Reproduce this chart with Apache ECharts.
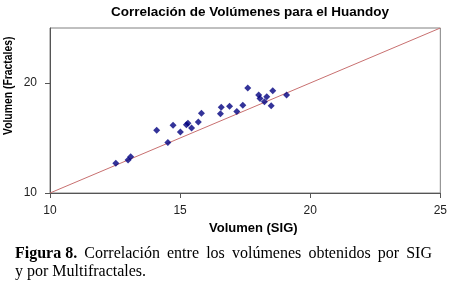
<!DOCTYPE html>
<html>
<head>
<meta charset="utf-8">
<script src="https://cdn.jsdelivr.net/npm/echarts@6/dist/echarts.min.js"></script>
<style>
  html, body { margin: 0; padding: 0; background: #fff; }
  #chart { width: 450px; height: 285px; }
</style>
</head>
<body>
<div id="chart"></div>
<script>
// volumen SIG (x) y volumen por multifractales (y)
var volSIG = [12.53, 13.0, 13.1, 14.1, 14.53, 14.73, 15.01, 15.24, 15.3, 15.44, 15.7,
  15.82, 16.55, 16.58, 16.9, 17.18, 17.41, 17.6, 18.02, 18.07, 18.24, 18.33, 18.5, 18.56, 19.09];
var volFractales = [12.7, 13.0, 13.3, 15.7, 14.6, 16.15, 15.55, 16.2, 16.35, 15.92, 16.45,
  17.25, 17.2, 17.79, 17.88, 17.42, 17.97, 19.55, 18.91, 18.6, 18.3, 18.76, 17.94, 19.3, 18.91];
var lineaIgual = [10, 25];
var xTicks = [10, 15, 20, 25];

var chart = echarts.init(document.getElementById("chart"));

var puntos = volSIG.map(function (v, i) {
  return [v, volFractales[i]];
});

// primera linea del pie de figura, justificada entre x=15 y x=432
var captionFont = "16px 'Liberation Serif'";
var captionBold = "bold 16px 'Liberation Serif'";
var palabras = ["Figura 8.", "Correlación", "entre", "los", "volúmenes", "obtenidos", "por", "SIG"];
var ctx = document.createElement("canvas").getContext("2d");
var anchos = palabras.map(function (w, i) {
  ctx.font = i === 0 ? captionBold : captionFont;
  return ctx.measureText(w).width;
});
var total = anchos.reduce(function (a, b) { return a + b; }, 0);
var hueco = (432 - 15 - total) / (palabras.length - 1);
var captionGraphics = [];
var xPos = 15;
palabras.forEach(function (w, i) {
  captionGraphics.push({
    type: "text",
    x: xPos,
    y: 246,
    style: { text: w, font: i === 0 ? captionBold : captionFont, fill: "#000" },
  });
  xPos += anchos[i] + hueco;
});
captionGraphics.push({
  type: "text",
  x: 15,
  y: 264,
  style: { text: "y por Multifractales.", font: captionFont, fill: "#000" },
});

chart.setOption({
  animation: false,
  backgroundColor: "#fff",
  title: {
    text: "Correlación de Volúmenes para el Huandoy",
    left: 245,
    textAlign: "center",
    top: 0,
    textStyle: { fontFamily: "Arial", fontSize: 13.5, fontWeight: "bold", color: "#000" },
  },
  grid: {
    left: 50,
    right: 9,
    top: 28,
    bottom: 92,
    show: true,
    borderColor: "#808080",
    borderWidth: 1,
  },
  xAxis: {
    type: "value",
    min: xTicks[0],
    max: xTicks[xTicks.length - 1],
    interval: 5,
    splitLine: { show: false },
    axisLine: { lineStyle: { color: "#555", width: 1 } },
    axisTick: { show: true, length: 5, lineStyle: { color: "#555" } },
    axisLabel: { fontFamily: "Arial", fontSize: 12, color: "#222", margin: 12 },
  },
  yAxis: {
    type: "value",
    min: 10,
    max: 25,
    interval: 10,
    splitLine: { show: false },
    axisLine: { show: true, lineStyle: { color: "#555", width: 1 } },
    axisTick: { show: true, length: 5, lineStyle: { color: "#555" } },
    axisLabel: {
      fontFamily: "Arial",
      fontSize: 12,
      color: "#222",
      margin: 13,
      showMaxLabel: false,
      formatter: function (v) {
        return v % 10 === 0 ? String(v) : "";
      },
    },
  },
  graphic: [
    {
      type: "text",
      left: 209,
      top: 222,
      style: { text: "Volumen (SIG)", font: "bold 13px Arial", fill: "#000" },
    },
    {
      type: "text",
      x: 2,
      y: 135,
      rotation: Math.PI / 2,
      scaleX: 0.83,
      style: { text: "Volumen (Fractales)", font: "bold 12.5px Arial", fill: "#000" },
    },
  ].concat(captionGraphics),
  series: [
    {
      type: "line",
      data: lineaIgual.map(function (v) { return [v, v]; }),
      symbol: "none",
      lineStyle: { color: "#c87070", width: 1 },
      z: 1,
    },
    {
      type: "scatter",
      data: puntos,
      symbol: "diamond",
      symbolSize: 7,
      itemStyle: { color: "#000080" },
      z: 2,
    },
  ],
});
</script>
</body>
</html>
